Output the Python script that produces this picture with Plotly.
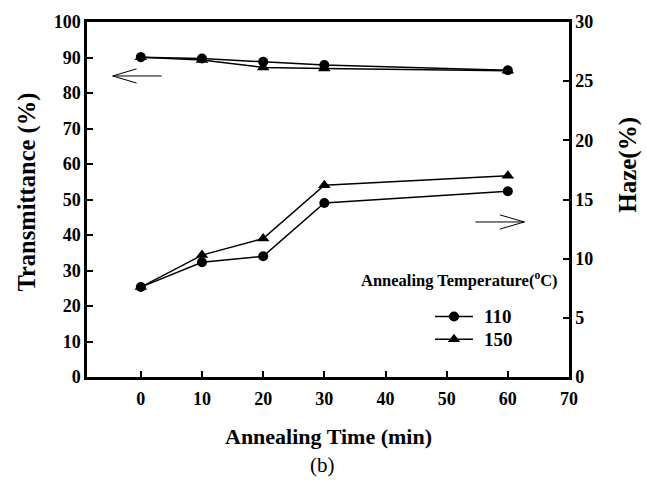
import plotly.graph_objects as go

# Annealing time (min)
time_min = [0, 10, 20, 30, 60]

# Transmittance (%) for each annealing temperature
trans_110 = [90.1, 89.7, 88.8, 87.9, 86.4]
trans_150 = [90.1, 89.3, 87.2, 86.9, 86.3]

# Haze (%) for each annealing temperature
haze_110 = [7.6, 9.7, 10.2, 14.7, 15.7]
haze_150 = [7.6, 10.3, 11.7, 16.2, 17.0]

series_names = ["110", "150"]

FONT = "Liberation Serif"
BLACK = "#000000"

# plot-area geometry in pixels, used to place free text
L, R, T, B = 87, 569, 19, 377
W, H = 647, 481


def px_x(px):
    return (px - L) / (R - L)


def px_y(py):
    return (B - py) / (B - T)


fig = go.Figure()

line_style = dict(color=BLACK, width=1.5)
circle = dict(symbol="circle", size=10, color=BLACK)
triangle = dict(symbol="triangle-up", size=11, color=BLACK)

fig.add_trace(go.Scatter(x=time_min, y=trans_110, mode="lines+markers", line=line_style,
                         marker=circle, showlegend=False, yaxis="y"))
fig.add_trace(go.Scatter(x=time_min, y=trans_150, mode="lines+markers", line=line_style,
                         marker=triangle, showlegend=False, yaxis="y"))
fig.add_trace(go.Scatter(x=time_min, y=haze_110, mode="lines+markers", line=line_style,
                         marker=circle, showlegend=False, yaxis="y2"))
fig.add_trace(go.Scatter(x=time_min, y=haze_150, mode="lines+markers", line=line_style,
                         marker=triangle, showlegend=False, yaxis="y2"))

# Legend samples drawn on a hidden unit-square axis spanning the plot area
legend_rows = [px_y(316), px_y(339)]
for name, row, mk in zip(series_names, legend_rows, [circle, triangle]):
    fig.add_trace(go.Scatter(x=[px_x(435), px_x(454), px_x(473)], y=[row, row, row],
                             mode="lines", line=dict(color=BLACK, width=1.5),
                             xaxis="x3", yaxis="y3", showlegend=False, hoverinfo="skip"))
    fig.add_trace(go.Scatter(x=[px_x(454)], y=[row], mode="markers", marker=mk,
                             xaxis="x3", yaxis="y3", showlegend=False, hoverinfo="skip"))

tick_font = dict(family=FONT, size=18, color=BLACK, weight="bold")
title_font = dict(family=FONT, size=22, color=BLACK, weight="bold")

annotations = [
    dict(text="Annealing Temperature(<sup>o</sup>C)", xref="paper", yref="paper",
         x=px_x(560), y=px_y(279), xanchor="right", yanchor="middle", showarrow=False,
         font=dict(family=FONT, size=16.5, color=BLACK, weight="bold")),
    dict(text="Annealing Time (min)", xref="paper", yref="paper",
         x=px_x(328), y=px_y(437), xanchor="center", yanchor="middle", showarrow=False,
         font=title_font),
    dict(text="(b)", xref="paper", yref="paper", x=px_x(322), y=px_y(466),
         xanchor="center", yanchor="middle", showarrow=False,
         font=dict(family=FONT, size=21, color=BLACK)),
    dict(text="Transmittance (%)", xref="paper", yref="paper", x=px_x(27), y=px_y(191),
         xanchor="center", yanchor="middle", showarrow=False, textangle=-90,
         font=dict(family=FONT, size=24.5, color=BLACK, weight="bold")),
    dict(text="Haze(%)", xref="paper", yref="paper", x=px_x(628), y=px_y(163),
         xanchor="center", yanchor="middle", showarrow=False, textangle=-90,
         font=dict(family=FONT, size=25, color=BLACK, weight="bold")),
]
for name, row in zip(series_names, legend_rows):
    annotations.append(dict(text=name, xref="paper", yref="paper", x=px_x(482), y=row,
                            xanchor="left", yanchor="middle", showarrow=False,
                            font=dict(family=FONT, size=19, color=BLACK, weight="bold")))

fig.update_layout(
    width=W, height=H,
    margin=dict(l=L, r=W - R, t=T, b=H - B),
    paper_bgcolor="white", plot_bgcolor="white",
    font=dict(family=FONT, color=BLACK),
    showlegend=False,
    xaxis=dict(range=[-8.8, 70], tick0=0, dtick=10, ticks="inside", ticklen=6, tickwidth=1.5,
               tickcolor=BLACK, showline=True, linewidth=2.5, linecolor=BLACK, mirror=True,
               showgrid=False, zeroline=False, tickfont=tick_font, ticklabelstandoff=4),
    yaxis=dict(range=[0, 100], dtick=10, ticks="inside", ticklen=6, tickwidth=1.5,
               tickcolor=BLACK, showline=True, linewidth=2.5, linecolor=BLACK,
               showgrid=False, zeroline=False, tickfont=tick_font),
    yaxis2=dict(range=[0, 30], dtick=5, ticks="inside", ticklen=6, tickwidth=1.5,
                tickcolor=BLACK, showline=True, linewidth=2.5, linecolor=BLACK,
                overlaying="y", side="right", showgrid=False, zeroline=False,
                tickfont=tick_font),
    xaxis3=dict(range=[0, 1], overlaying="x", anchor="y3", visible=False, fixedrange=True),
    yaxis3=dict(range=[0, 1], overlaying="y", anchor="x3", visible=False, fixedrange=True),
    annotations=annotations,
)

# Open arrows pointing each curve group to its axis
arrow_line = dict(color=BLACK, width=1)
trans_arrow = [
    [(-4.6, 84.8), (3.4, 84.8)], [(-4.6, 84.8), (-0.7, 86.8)], [(-4.6, 84.8), (-0.7, 82.8)],
]
for (x0, y0), (x1, y1) in trans_arrow:
    fig.add_shape(type="line", xref="x", yref="y", x0=x0, y0=y0, x1=x1, y1=y1, line=arrow_line)
haze_arrow = [
    [(54.7, 13.1), (62.7, 13.1)], [(62.7, 13.1), (58.7, 13.7)], [(62.7, 13.1), (58.7, 12.5)],
]
for (x0, y0), (x1, y1) in haze_arrow:
    fig.add_shape(type="line", xref="x", yref="y2", x0=x0, y0=y0, x1=x1, y1=y1, line=arrow_line)

fig.write_html("out.html")
